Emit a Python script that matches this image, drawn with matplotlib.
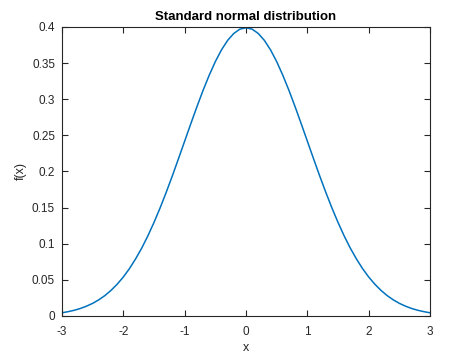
import matplotlib.pyplot as plt

plt.rcParams['font.family'] = ['Liberation Sans', 'DejaVu Sans']

# values (right half, curve is symmetric about x = 0)
x_half = [0.0, 0.1, 0.2, 0.3, 0.4, 0.5, 0.6, 0.7, 0.8, 0.9, 1.0,
          1.1, 1.2, 1.3, 1.4, 1.5, 1.6, 1.7, 1.8, 1.9, 2.0,
          2.1, 2.2, 2.3, 2.4, 2.5, 2.6, 2.7, 2.8, 2.9, 3.0]
fx_half = [0.3989, 0.3970, 0.3910, 0.3814, 0.3683, 0.3521, 0.3332, 0.3123, 0.2897, 0.2661, 0.2420,
           0.2179, 0.1942, 0.1714, 0.1497, 0.1295, 0.1109, 0.0940, 0.0790, 0.0656, 0.0540,
           0.0440, 0.0355, 0.0283, 0.0224, 0.0175, 0.0136, 0.0104, 0.0079, 0.0060, 0.0044]
x_vals = [-v for v in x_half[:0:-1]] + x_half
fx_vals = fx_half[:0:-1] + fx_half

x_ticks = [-3, -2, -1, 0, 1, 2, 3]
y_ticks = [0, 0.05, 0.1, 0.15, 0.2, 0.25, 0.3, 0.35, 0.4]
y_labels = ['0', '0.05', '0.1', '0.15', '0.2', '0.25', '0.3', '0.35', '0.4']

fig = plt.figure(figsize=(4.74, 3.55), dpi=100)
ax = fig.add_axes([0.1308, 0.1099, 0.7764, 0.8141])

ax.plot(x_vals, fx_vals, color='#0072BD', linewidth=1.1)

ax.set_xlim(-3, 3)
ax.set_ylim(0, 0.4)
ax.set_xticks(x_ticks)
ax.set_xticklabels([str(t) for t in x_ticks])
ax.set_yticks(y_ticks)
ax.set_yticklabels(y_labels)

axis_color = '#262626'
for s in ax.spines.values():
    s.set_color(axis_color)
    s.set_linewidth(0.8)
ax.tick_params(direction='in', top=True, right=True, length=4, width=0.8,
               color=axis_color, labelcolor=axis_color, labelsize=8.5)
ax.tick_params(axis='x', pad=7)
ax.tick_params(axis='y', pad=5)

ax.set_xlabel('x', fontsize=9, color=axis_color, labelpad=3)
ax.set_ylabel('f(x)', fontsize=9, color=axis_color, labelpad=4)
ax.set_title('Standard normal distribution', fontsize=9.5, fontweight='bold', pad=5)

fig.savefig('out.png', dpi=100)
